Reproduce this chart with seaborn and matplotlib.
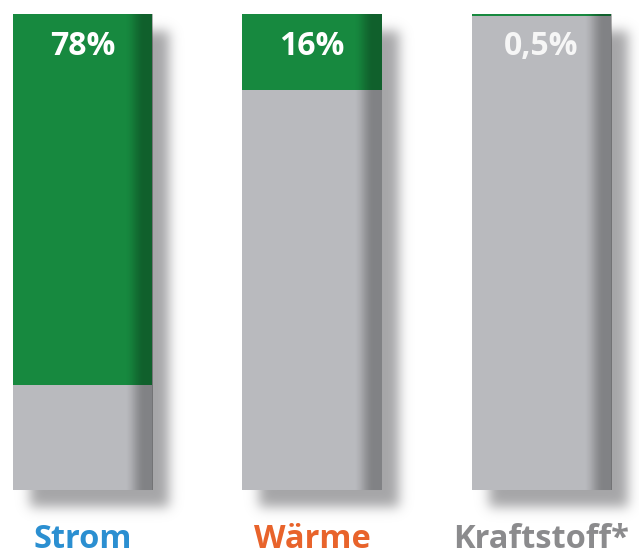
import numpy as np
import pandas as pd
import matplotlib
matplotlib.use("Agg")
import matplotlib.pyplot as plt
import seaborn as sns

# Anteile erneuerbarer Energien je Sektor
categories = ["Strom", "Wärme", "Kraftstoff*"]
shares = [78, 16, 0.5]
share_labels = ["78%", "16%", "0,5%"]
label_colors = ["#2b8fd1", "#e8632b", "#8b8b8d"]
share_text_colors = ["white", "white", "#f6f6f6"]

GREEN = "#17893f"
GRAY = "#b9babe"
SHADOW = (0.65, 0.65, 0.655)

sns.set_theme(style="white")
plt.rcParams["font.family"] = ["Open Sans", "DejaVu Sans"]

df = pd.DataFrame({"Bereich": categories, "Anteil": shares})
df["Gesamt"] = 100.0
df["Rest"] = df["Gesamt"] - df["Anteil"]

W, H = 639, 554
fig = plt.figure(figsize=(W / 100, H / 100), dpi=100, facecolor="white")
ax = fig.add_axes([0, 0, 1, 1])
ax.set_facecolor("none")

bar_w = 0.606
# full column in green, remaining (non-green) part in gray on top of it
sns.barplot(data=df, x="Bereich", y="Gesamt", order=categories, color=GREEN,
            saturation=1, width=bar_w, linewidth=0, errorbar=None, ax=ax)
sns.barplot(data=df, x="Bereich", y="Rest", order=categories, color=GRAY,
            saturation=1, width=bar_w, linewidth=0, errorbar=None, ax=ax)

# axis scaling: 229.5 px per category, column height 476 px
px_x = 229.5
px_y = 476 / 100


def set_limits():
    ax.set_xlim(-82.5 / px_x, (W - 82.5) / px_x)
    ax.set_ylim(-64 / px_y, 100 + 14 / px_y)


set_limits()
ax.set_axis_off()

columns = list(ax.patches[:len(categories)])

# shading toward the right edge of each column
n = 256
t = np.linspace(0, 1, n)
s = np.clip((t - 0.80) / 0.14, 0, 1)
alpha = 0.30 * s * s * (3 - 2 * s)
grad = np.zeros((1, n, 4))
grad[..., 3] = alpha
for p in columns:
    x0, y0, w, h = p.get_x(), p.get_y(), p.get_width(), p.get_height()
    im = ax.imshow(grad, extent=(x0, x0 + w, y0, y0 + h), aspect="auto",
                   interpolation="bilinear", zorder=3)
    im.set_clip_path(p)
set_limits()

# soft drop shadow behind the columns (pixel space)
mask = np.zeros((H, W))
dx, dy = 17, 17
for p in columns:
    (xa, ya), (xb, yb) = ax.transData.transform(
        [(p.get_x(), p.get_y()), (p.get_x() + p.get_width(), p.get_y() + p.get_height())])
    r0, r1 = int(round(H - yb)) + dy, int(round(H - ya)) + dy
    c0, c1 = int(round(xa)) + dx, int(round(xb)) + dx
    mask[max(r0, 0):min(r1, H), max(c0, 0):min(c1, W)] = 1.0

sigma = 6.0
k = np.arange(-20, 21)
kern = np.exp(-0.5 * (k / sigma) ** 2)
kern /= kern.sum()
blur = np.apply_along_axis(lambda v: np.convolve(v, kern, mode="same"), 0, mask)
blur = np.apply_along_axis(lambda v: np.convolve(v, kern, mode="same"), 1, blur)
shadow = np.zeros((H, W, 4))
shadow[..., 0], shadow[..., 1], shadow[..., 2] = SHADOW
shadow[..., 3] = np.clip(blur, 0, 1)
fig.figimage(shadow, xo=0, yo=0, origin="upper", zorder=-1)

# value labels inside the columns and category labels below
for i, (lab, col) in enumerate(zip(share_labels, share_text_colors)):
    ax.text(i, 100 - 32 / px_y, lab, ha="center", va="center", color=col,
            fontsize=23, fontweight="bold", zorder=6)
for i, (cat, col) in enumerate(zip(categories, label_colors)):
    ax.text(i, -49 / px_y, cat, ha="center", va="center", color=col,
            fontsize=23.5, fontweight="bold", zorder=6)

fig.savefig("out.png", dpi=100, facecolor="white")
